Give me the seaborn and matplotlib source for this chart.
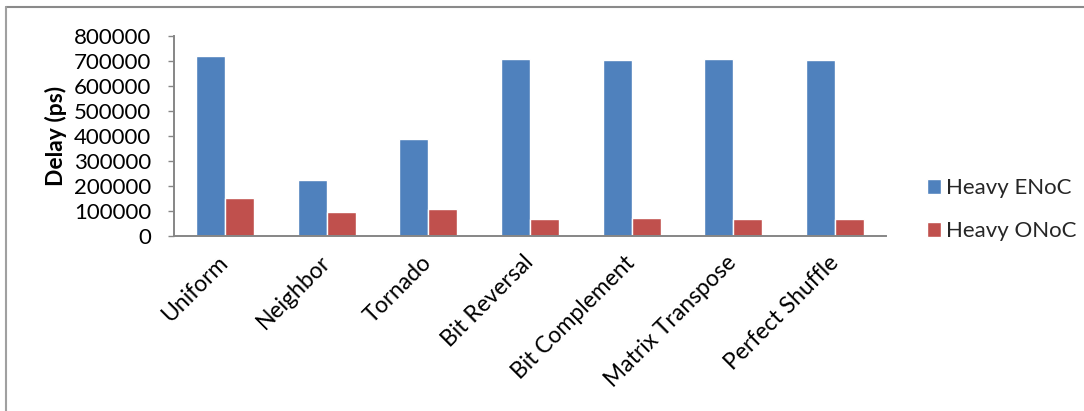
import matplotlib
matplotlib.use("Agg")
import matplotlib.pyplot as plt
from matplotlib.lines import Line2D
import seaborn as sns
import pandas as pd

categories = ["Uniform", "Neighbor", "Tornado", "Bit Reversal", "Bit Complement",
              "Matrix Transpose", "Perfect Shuffle"]
heavy_enoc = [720000, 223000, 386000, 706000, 702000, 706000, 702000]
heavy_onoc = [150000, 95000, 106000, 67000, 71000, 67000, 67000]
series_names = ["Heavy ENoC", "Heavy ONoC"]
y_ticks = [0, 100000, 200000, 300000, 400000, 500000, 600000, 700000, 800000]

df = pd.DataFrame({
    "category": categories * 2,
    "series": [series_names[0]] * len(categories) + [series_names[1]] * len(categories),
    "value": heavy_enoc + heavy_onoc,
})

sns.set_theme(style="white")
plt.rcParams["font.family"] = ["Lato", "DejaVu Sans"]

W, H = 1084, 411
fig = plt.figure(figsize=(W / 100, H / 100), dpi=100)
ax = fig.add_axes([174 / W, 1 - 235.7 / H, (886 - 174) / W, 200 / H])

sns.barplot(data=df, x="category", y="value", hue="series", order=categories,
            hue_order=series_names, palette=["#4F81BD", "#C0504D"],
            width=0.571, gap=0, saturation=1, ax=ax, legend=True)

ax.set_ylim(0, 800000)
ax.set_xlim(-0.5, len(categories) - 0.5)
ax.set_yticks(y_ticks)
ax.set_yticklabels([str(v) for v in y_ticks], fontsize=16, color="black")
ax.set_xlabel("")
ax.set_ylabel("Delay (ps)", fontsize=16.5, fontweight="bold", color="black", labelpad=5)

for s in ["top", "right"]:
    ax.spines[s].set_visible(False)
for s in ["left", "bottom"]:
    ax.spines[s].set_color("#868686")
    ax.spines[s].set_linewidth(1.4)

ax.tick_params(axis="y", which="major", left=True, length=4.5, width=1, color="#868686", pad=12)
ax.tick_params(axis="x", which="major", bottom=False, length=0, pad=17)
for lbl in ax.get_xticklabels():
    lbl.set_rotation(45)
    lbl.set_ha("right")
    lbl.set_va("center")
    lbl.set_rotation_mode("anchor")
    lbl.set_fontsize(16.5)
    lbl.set_color("black")

handles, labels = ax.get_legend_handles_labels()
ax.get_legend().remove()
fig.legend(handles, labels, loc="upper left",
           bbox_to_anchor=(927 / W, 1 - 178 / H), frameon=False,
           fontsize=16, handlelength=0.65, handleheight=0.65, handletextpad=0.2,
           labelspacing=1.05, borderpad=0, borderaxespad=0)

fig.add_artist(Line2D([6 / W, 1], [1 - 7.5 / H] * 2, transform=fig.transFigure,
                      color="#8a8a8a", lw=1.5))
fig.add_artist(Line2D([6 / W] * 2, [0, 1 - 7.5 / H], transform=fig.transFigure,
                      color="#a0a0a0", lw=1.5))

fig.savefig("out.png", dpi=100)
